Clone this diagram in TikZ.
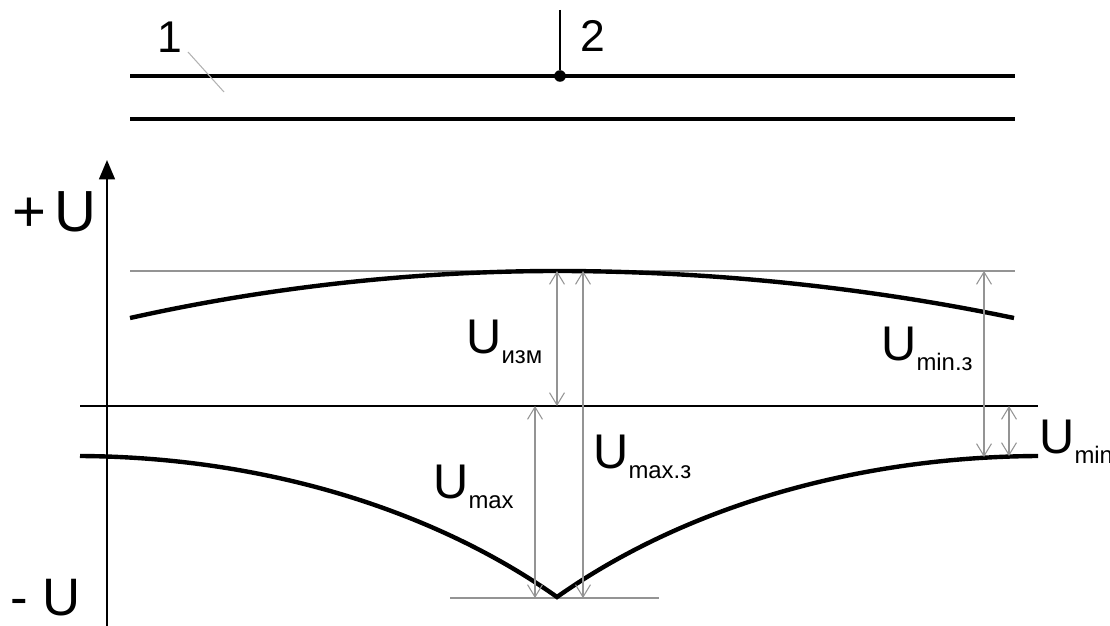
\documentclass[tikz,border=0pt]{standalone}
\usepackage{fontspec}
\setmainfont{Liberation Sans}
\usepackage{tikz}
\usetikzlibrary{arrows.meta}
\colorlet{faint}{black!42}
\newcommand{\volt}[1]{U\raisebox{-6pt}{\fontsize{13.6}{15}\selectfont #1}}

\begin{document}
\begin{tikzpicture}[x=0.2mm, y=-0.2mm, every node/.style={inner sep=0pt, anchor=base west, font=\fontsize{27.7}{30}\selectfont}, pipe/.style={line width=2.5pt}, curve/.style={line width=2.5pt, line join=miter}, guide/.style={draw=faint, line width=0.6pt}, dim/.style={draw=faint, line width=0.6pt, {Straight Barb[length=7pt,width=8.5pt]}-{Straight Barb[length=7pt,width=8.5pt]}}, axis/.style={line width=1.1pt}, dot/.style={circle, fill, inner sep=0pt, minimum size=6.6pt, anchor=center}, num/.style={font=\fontsize{25.3}{28}\selectfont}]
\useasboundingbox (0,0) rectangle (1110,626);
\coordinate (topw) at (130,76);
\coordinate (tope) at (1015,76);
\coordinate (botw) at (130,119);
\coordinate (bote) at (1015,119);
\node[dot] (drain) at (560,76) {};
\coordinate (lead) at (560,10);
\coordinate (mark1a) at (188,52);
\coordinate (mark1b) at (224,92);
\node[num] (one) at (157,53) {1};
\node[num] (two) at (580,52) {2};
\draw[pipe] (topw)--(tope);
\draw[pipe] (botw)--(bote);
\draw[line width=1pt] (lead)--(drain);
\draw[draw=black!30, line width=0.6pt] (mark1a)--(mark1b);
\coordinate (axbot) at (107,626);
\coordinate (axtop) at (107,160);
\coordinate (zerow) at (80,406);
\coordinate (zeroe) at (1038,406);
\draw[axis, -{Triangle[length=11pt,width=9pt]}] (axbot)--(axtop);
\draw[axis] (zerow)--(zeroe);
\node[font=\fontsize{33}{36}\selectfont] (plusU) at (12,232) {+\hspace{4.5pt}U};
\node[font=\fontsize{30}{33}\selectfont] (minusU) at (10,615) {- U};
\coordinate (refw) at (130,271);
\coordinate (refe) at (1015,271);
\coordinate (lowrefw) at (450,598);
\coordinate (lowrefe) at (659,598);
\draw[guide] (refw)--(refe);
\draw[guide] (lowrefw)--(lowrefe);
\draw[curve] (130,318) parabola bend (557,271) (1014,318);
\draw[curve] (80,456) .. controls (264,457) and (434,510) .. (557,597) .. controls (680,510) and (850,457) .. (1038,456);
\coordinate (izmt) at (557,271);
\coordinate (izmb) at (557,406);
\coordinate (maxzt) at (583,271);
\coordinate (maxzb) at (583,598);
\coordinate (maxt) at (535,406);
\coordinate (maxb) at (535,598);
\coordinate (minzt) at (984,271);
\coordinate (minzb) at (984,457);
\coordinate (mint) at (1009,406);
\coordinate (minb) at (1009,456);
\draw[dim] (izmt)--(izmb);
\draw[dim] (maxzt)--(maxzb);
\draw[dim] (maxt)--(maxb);
\draw[dim] (minzt)--(minzb);
\draw[dim] (mint)--(minb);
\node (Uizm) at (466,353) {\volt{изм}};
\node (Umax) at (433,498) {\volt{max}};
\node (Umaxz) at (593,468) {\volt{max.з}};
\node (Uminz) at (881,360) {\volt{min.з}};
\node (Umin) at (1039,453) {\volt{min}};
\end{tikzpicture}
\end{document}
